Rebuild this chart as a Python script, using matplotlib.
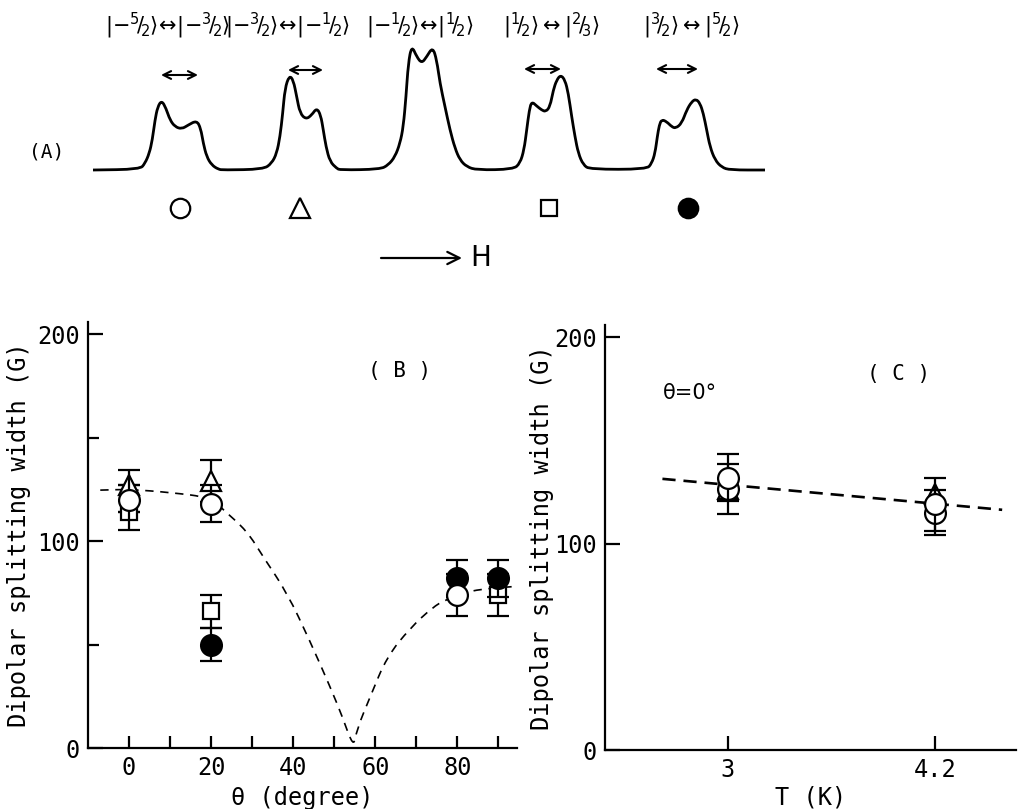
import matplotlib
matplotlib.use("Agg")
import matplotlib.pyplot as plt
from matplotlib.path import Path
from matplotlib.patches import PathPatch
import numpy as np

# === Panel A: traced spectrum (pixel units, y downwards, baseline at 170) ===
spec_x = [93, 140, 145, 149.3, 152.3, 155, 157.7, 161.7, 166, 170, 175, 181.7, 188.3, 196.7,
          200.7, 203.3, 206.7, 211.7, 218.3, 223.3,
          263.3, 271.7, 276.7, 280, 282.7, 285, 289.3, 293.3, 296.7, 300, 306, 311.7, 316.7,
          320.7, 323.3, 326, 330, 336.7, 340,
          380, 388.3, 395, 400, 403.3, 406, 408.3, 411.7, 416.7, 421.7, 426.7, 432.7, 436.7,
          440, 445, 450, 455, 460, 466.7, 476.7,
          513.3, 520, 524, 526.7, 529.3, 531.7, 536.7, 541.7, 545.7, 550, 553.3, 556.7, 560.7,
          565, 568.3, 571.7, 575, 578.3, 583.3, 590,
          646.7, 651.7, 655, 657.3, 659.3, 661.7, 666.7, 671.7, 675.7, 681.7, 686.7, 691.7, 696,
          700, 703.3, 706.7, 710, 715, 721.7, 730, 765]
spec_y = [170, 169.3, 163.3, 153.3, 140, 120, 106.7, 100.5, 108.3, 120, 126.7, 129, 125, 120.5,
          128.3, 143.3, 156.7, 165, 169.3, 170,
          169.3, 163.3, 153.3, 136.7, 113.3, 88.3, 75.5, 80, 96.7, 113.3, 119.3, 115, 108,
          115, 130, 146.7, 161.7, 168.3, 170,
          169.3, 165, 156.7, 143.3, 126.7, 96.7, 63.3, 45.5, 56.7, 63.3, 56.7, 47, 60,
          83.3, 106.7, 130, 148.3, 160, 166.7, 170,
          169.3, 163.3, 150, 130, 110, 101.5, 106, 110, 111.7, 106.7, 90, 80, 75,
          80, 93.3, 116.7, 136.7, 153.3, 165, 169.3,
          169.3, 163.3, 153.3, 136.7, 125, 119.5, 121.7, 126.7, 128.3, 123.3, 110, 101.7, 99,
          103.3, 113.3, 130, 146.7, 160, 167.3, 170, 170]

transitions = [
    r'$|{-}{}^{5}\!/\!{}_{2}\rangle\!\leftrightarrow\!|{-}{}^{3}\!/\!{}_{2}\rangle$',
    r'$|{-}{}^{3}\!/\!{}_{2}\rangle\!\leftrightarrow\!|{-}{}^{1}\!/\!{}_{2}\rangle$',
    r'$|{-}{}^{1}\!/\!{}_{2}\rangle\!\leftrightarrow\!|{}^{1}\!/\!{}_{2}\rangle$',
    r'$|{}^{1}\!/\!{}_{2}\rangle\leftrightarrow|{}^{2}\!/\!{}_{3}\rangle$',
    r'$|{}^{3}\!/\!{}_{2}\rangle\leftrightarrow|{}^{5}\!/\!{}_{2}\rangle$',
]
label_x = [168, 288, 420, 552, 692]
split_x0 = [161, 288, 524, 656]
split_x1 = [198, 323, 561, 698]
split_y = [75, 70, 69, 69]
symbol_x = [180, 300, 549, 688]
symbols = ['o', '^', 's', 'o']
symbol_fill = ['white', 'white', 'white', 'black']

# === Panel B: angular dependence ===
b_circ_th = [0, 20, 80]
b_circ = [120, 118, 74]
b_circ_err = [14.5, 9, 10]
b_tri_th = [0, 20]
b_tri = [127, 129]
b_tri_err = [0, 10]
b_sq_th = [0, 20, 90]
b_sq = [114, 66, 74]
b_sq_err = [0, 8, 10]
b_fill_th = [20, 80, 90]
b_fill = [50, 82, 82]
b_fill_err = [8, 9, 9]

b_curve_th = [-7, 0, 10, 20, 23, 28.7, 32.8, 38.5, 44, 49, 52, 54.7,
              55.5, 58.8, 62.8, 68.5, 74, 77, 82.4, 87, 93.7]
b_curve = [124.6, 125, 123.5, 121, 115, 105, 92, 75, 52, 29.5, 15, 0,
           9, 25, 44, 58, 68, 71.5, 75.5, 77, 78]

# === Panel C: temperature dependence ===
c_T = [3, 4.2]
c_circ_hi = [132, 119]
c_circ_hi_err = [11.5, 13]
c_circ_lo = [126.5, 115]
c_circ_lo_err = [12, 11]
c_tri = [126.6, 124]
c_line_T = [2.62, 4.59]
c_line = [131.4, 116.4]

mono = 'DejaVu Sans Mono'
plt.rcParams.update({
    'font.family': mono,
    'font.size': 17,
    'axes.linewidth': 1.6,
    'mathtext.fontset': 'dejavusans',
})


def smooth_path(xs, ys):
    # quadratic B-spline through midpoints, drawn by matplotlib's own Bezier path
    pts = np.column_stack([xs, ys])
    verts = [pts[0], (pts[0] + pts[1]) / 2]
    codes = [Path.MOVETO, Path.LINETO]
    for i in range(1, len(pts) - 1):
        verts += [pts[i], (pts[i] + pts[i + 1]) / 2]
        codes += [Path.CURVE3, Path.CURVE3]
    verts.append(pts[-1])
    codes.append(Path.LINETO)
    return Path(verts, codes)


fig = plt.figure(figsize=(10.18, 8.09), dpi=100)

# --- panel A drawn on a full-figure pixel canvas ---
ax_a = fig.add_axes([0, 0, 1, 1])
ax_a.set_xlim(0, 1018)
ax_a.set_ylim(809, 0)
ax_a.axis('off')
ax_a.add_patch(PathPatch(smooth_path(spec_x, spec_y), fill=False, lw=2.0,
                         edgecolor='black', joinstyle='round'))
for lx, lab in zip(label_x, transitions):
    ax_a.text(lx, 26, lab, fontsize=15, ha='center', va='center')
for x0, x1, yy in zip(split_x0, split_x1, split_y):
    ax_a.annotate('', xy=(x0, yy), xytext=(x1, yy),
                  arrowprops=dict(arrowstyle='<->', lw=1.5, color='black',
                                  shrinkA=0, shrinkB=0, mutation_scale=14))
for sx, m, fc in zip(symbol_x, symbols, symbol_fill):
    ax_a.plot(sx, 208, marker=m, ms=11 if m == 's' else 14, mfc=fc, mec='black', mew=1.6)
ax_a.text(47, 152, '(A)', fontsize=14, ha='center', va='center')
ax_a.annotate('', xy=(462, 258), xytext=(381, 258),
              arrowprops=dict(arrowstyle='->', lw=1.6, color='black',
                              shrinkA=0, shrinkB=0, mutation_scale=22))
ax_a.text(470, 258, 'H', family='DejaVu Sans', fontsize=20, ha='left', va='center')


def style_axes(ax):
    ax.set_facecolor('none')
    for s in ('top', 'right'):
        ax.spines[s].set_visible(False)
    ax.tick_params(which='both', direction='in', width=1.6, labelsize=17, pad=6)
    ax.tick_params(which='major', length=11)
    ax.tick_params(which='minor', length=8)


eb = dict(capsize=8, elinewidth=1.6, capthick=1.6, ecolor='black', ls='none', mec='black', mew=1.6)

# --- panel B ---
ax_b = fig.add_axes([0.0864, 0.0754, 0.4214, 0.5270])
style_axes(ax_b)
ax_b.add_patch(PathPatch(smooth_path(b_curve_th, b_curve), fill=False, lw=1.2,
                         edgecolor='black', ls=(0, (5, 4)), zorder=1))
ax_b.errorbar(b_sq_th, b_sq, yerr=b_sq_err, marker='s', ms=12, mfc='white', zorder=3, **eb)
ax_b.errorbar(b_tri_th, b_tri, yerr=b_tri_err, marker='^', ms=15, mfc='white', zorder=3, **eb)
ax_b.errorbar(b_fill_th, b_fill, yerr=b_fill_err, marker='o', ms=15, mfc='black', zorder=4, **eb)
ax_b.errorbar(b_circ_th, b_circ, yerr=b_circ_err, marker='o', ms=15, mfc='white', zorder=5, **eb)
ax_b.set_xlim(-10, 94.5)
ax_b.set_ylim(0, 206)
ax_b.set_xticks([0, 20, 40, 60, 80])
ax_b.set_xticks([10, 30, 50, 70, 90], minor=True)
ax_b.set_yticks([0, 100, 200])
ax_b.set_yticks([50, 150], minor=True)
ax_b.tick_params(axis='x', which='both', length=9)
ax_b.set_xlabel('θ (degree)', fontsize=17, labelpad=4)
ax_b.set_ylabel('Dipolar splitting width (G)', fontsize=17, labelpad=4)
ax_b.text(66, 182, '( B )', fontsize=15, ha='center', va='center')

# --- panel C ---
ax_c = fig.add_axes([0.5943, 0.0729, 0.4037, 0.5255])
style_axes(ax_c)
ax_c.plot(c_line_T, c_line, color='black', lw=1.9, ls=(0, (5, 3)), zorder=1)
ax_c.errorbar(c_T, c_tri, marker='^', ms=15, mfc='white', zorder=3, **eb)
ax_c.errorbar(c_T, c_circ_lo, yerr=c_circ_lo_err, marker='o', ms=15, mfc='white', zorder=4, **eb)
ax_c.errorbar(c_T, c_circ_hi, yerr=c_circ_hi_err, marker='o', ms=15, mfc='white', zorder=5, **eb)
ax_c.set_xlim(2.287, 4.67)
ax_c.set_ylim(0, 206)
ax_c.set_xticks([3, 4.2])
ax_c.set_xticklabels(['3', '4.2'])
ax_c.set_yticks([0, 100, 200])
ax_c.tick_params(axis='x', length=10)
ax_c.set_xlabel('T (K)', fontsize=17, labelpad=2)
ax_c.set_ylabel('Dipolar splitting width (G)', fontsize=17, labelpad=0)
ax_c.text(3.99, 182, '( C )', fontsize=15, ha='center', va='center')
ax_c.text(2.78, 173, 'θ=0°', family='DejaVu Sans', fontsize=15, ha='center', va='center')

fig.savefig('out.png', dpi=100)
